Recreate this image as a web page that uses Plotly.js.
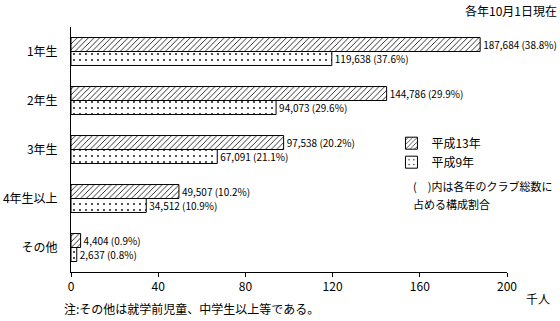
<!DOCTYPE html>
<html><head><meta charset="utf-8">
<script src="https://cdn.plot.ly/plotly-3.0.1.min.js"></script>
<style>body{margin:0;background:#fff}#c{width:560px;height:321px}</style>
</head><body><div id="c"></div>
<script>
const categories = ['1年生','2年生','3年生','4年生以上','その他'];
const h13Values = [187.684, 144.786, 97.538, 49.507, 4.404];
const h13Labels = ['187,684 (38.8%)','144,786 (29.9%)','97,538 (20.2%)','49,507 (10.2%)','4,404 (0.9%)'];
const h9Values = [119.638, 94.073, 67.091, 34.512, 2.637];
const h9Labels = ['119,638 (37.6%)','94,073 (29.6%)','67,091 (21.1%)','34,512 (10.9%)','2,637 (0.8%)'];
const xTicks = [0, 40, 80, 120, 160, 200];

const FONT = '"Noto Sans CJK JP", "Noto Sans", sans-serif';

const traces = [
  {
    type: 'bar', orientation: 'h', name: '平成13年',
    y: categories, x: h13Values, text: h13Labels,
    textposition: 'outside', cliponaxis: false, constraintext: 'none',
    textfont: {family: FONT, size: 10, color: '#000'},
    hoverinfo: 'skip',
    marker: {color: '#fff', line: {color: '#000', width: 1},
      pattern: {shape: '/', fgcolor: '#000', bgcolor: '#fff', size: 4, solidity: 0.2}}
  },
  {
    type: 'bar', orientation: 'h', name: '平成9年',
    y: categories, x: h9Values, text: h9Labels,
    textposition: 'outside', cliponaxis: false, constraintext: 'none',
    textfont: {family: FONT, size: 10, color: '#000'},
    hoverinfo: 'skip',
    marker: {color: '#fff', line: {color: '#000', width: 1},
      pattern: {shape: '.', fgcolor: '#000', bgcolor: '#fff', size: 6, solidity: 0.07}}
  }
];

const layout = {
  width: 560, height: 321,
  margin: {l: 71, r: 53, t: 27, b: 49},
  paper_bgcolor: '#fff', plot_bgcolor: '#fff',
  font: {family: FONT, size: 12, color: '#000'},
  barmode: 'group', bargap: 0.43, bargroupgap: 0,
  showlegend: true,
  legend: {x: 0.735, y: 0.585, xanchor: 'left', yanchor: 'top', bgcolor: 'rgba(0,0,0,0)',
    font: {family: FONT, size: 12}, tracegroupgap: 0, itemwidth: 30},
  xaxis: {range: [0, 200], tickvals: xTicks, showgrid: false, zeroline: false,
    showline: true, linecolor: '#000', linewidth: 1, ticks: 'outside', ticklen: 4,
    tickcolor: '#000', tickfont: {family: FONT, size: 12}, fixedrange: true},
  yaxis: {autorange: 'reversed', showgrid: false, zeroline: false, showline: true,
    linecolor: '#000', linewidth: 1, ticks: '', ticklabelstandoff: 10,
    tickfont: {family: FONT, size: 12}, fixedrange: true},
  annotations: [
    {xref: 'paper', yref: 'paper', x: 1.12, y: 1.0, yshift: 17, xanchor: 'right', yanchor: 'middle',
      text: '各年10月1日現在', showarrow: false, font: {family: FONT, size: 12}},
    {xref: 'paper', yref: 'paper', x: 1.04, y: 0, yshift: -26, xanchor: 'left', yanchor: 'middle',
      text: '千人', showarrow: false, font: {family: FONT, size: 12}},
    {xref: 'paper', yref: 'paper', x: -0.02, y: 0, yshift: -36, xanchor: 'left', yanchor: 'middle',
      text: '注:その他は就学前児童、中学生以上等である。', showarrow: false, font: {family: FONT, size: 12}},
    {xref: 'paper', yref: 'paper', x: 0.78, y: 0.351, xanchor: 'left', yanchor: 'middle', align: 'left',
      text: '(　)内は各年のクラブ総数に', showarrow: false, font: {family: FONT, size: 11}},
    {xref: 'paper', yref: 'paper', x: 0.78, y: 0.278, xanchor: 'left', yanchor: 'middle', align: 'left',
      text: '占める構成割合', showarrow: false, font: {family: FONT, size: 11}}
  ]
};

Plotly.newPlot('c', traces, layout, {displayModeBar: false, staticPlot: true});
</script>
</body></html>
